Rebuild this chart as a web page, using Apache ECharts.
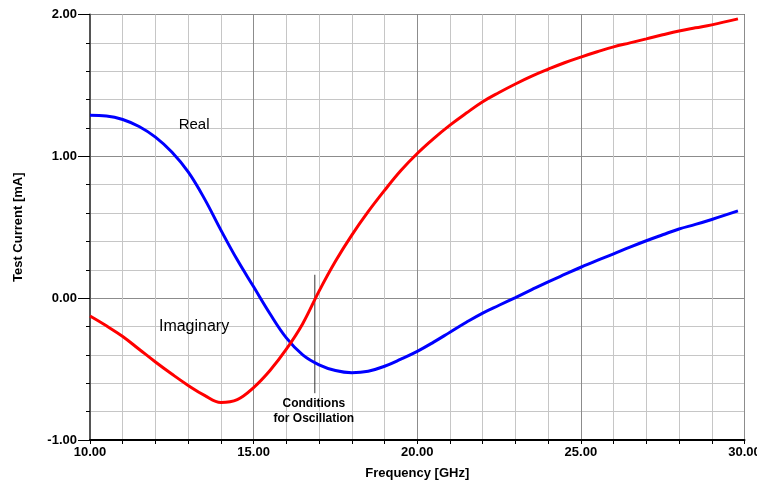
<!DOCTYPE html>
<html>
<head>
<meta charset="utf-8">
<script src="https://cdn.jsdelivr.net/npm/echarts@6/dist/echarts.min.js"></script>
<style>
  html, body { margin: 0; padding: 0; background: #fff; }
  #chart { width: 757px; height: 485px; }
</style>
</head>
<body>
<div id="chart"></div>
<script>
// Test current vs. frequency, real and imaginary parts
const realFreq = [10, 10.5, 11, 11.5, 12, 12.5, 13, 13.5, 14, 14.5, 15, 15.5, 16, 16.5, 17, 17.5, 18, 18.5, 19, 19.5, 20, 20.5, 21, 21.5, 22, 22.5, 23, 23.5, 24, 24.5, 25, 25.5, 26, 26.5, 27, 27.5, 28, 28.5, 29, 29.8];
const realVals = [1.29, 1.285, 1.26, 1.21, 1.135, 1.03, 0.89, 0.70, 0.48, 0.27, 0.08, -0.11, -0.28, -0.40, -0.47, -0.51, -0.525, -0.515, -0.48, -0.43, -0.375, -0.31, -0.24, -0.17, -0.105, -0.05, 0.004, 0.06, 0.115, 0.167, 0.218, 0.266, 0.312, 0.36, 0.405, 0.447, 0.488, 0.52, 0.555, 0.615];

const imagFreq = [10, 10.5, 11, 11.5, 12, 12.5, 13, 13.5, 14, 14.5, 15, 15.5, 16, 16.5, 17, 17.5, 18, 18.5, 19, 19.5, 20, 20.5, 21, 21.5, 22, 22.5, 23, 23.5, 24, 24.5, 25, 25.5, 26, 26.5, 27, 27.5, 28, 28.5, 29, 29.8];
const imagVals = [-0.126, -0.195, -0.27, -0.36, -0.45, -0.535, -0.615, -0.685, -0.735, -0.715, -0.63, -0.51, -0.36, -0.18, 0.05, 0.26, 0.445, 0.61, 0.76, 0.9, 1.02, 1.125, 1.22, 1.305, 1.385, 1.45, 1.51, 1.565, 1.614, 1.66, 1.7, 1.737, 1.772, 1.8, 1.828, 1.857, 1.884, 1.906, 1.927, 1.969];

// Oscillation marker: frequency and vertical extent
const markerFreq = 16.87;
const markerSpan = [0.165, -0.67];

// Curve annotations [freq, value, text]
const annotations = [
  [13.18, 1.22, 'Real'],
  [13.18, -0.2, 'Imaginary'],
  [16.84, -0.8, 'Conditions\nfor Oscillation']
];

const xTicks = { min: 10, max: 30, interval: 5 };
const yTicks = { min: -1, max: 2, interval: 1 };

const FONT = '"Liberation Sans", Arial, sans-serif';

const chart = echarts.init(document.getElementById('chart'), null, { renderer: 'canvas' });

const zip = (xs, ys) => xs.map((x, i) => [x, ys[i]]);

chart.setOption({
  animation: false,
  backgroundColor: '#ffffff',
  grid: {
    left: 90, right: 12.5, top: 14.5, bottom: 45,
    outerBoundsMode: 'none',
    containLabel: false,
    show: true, borderColor: '#000', borderWidth: 1, backgroundColor: 'transparent'
  },
  xAxis: {
    type: 'value',
    min: xTicks.min, max: xTicks.max, interval: xTicks.interval,
    name: 'Frequency [GHz]',
    nameLocation: 'middle',
    nameGap: 27,
    nameTextStyle: { fontFamily: FONT, fontSize: 13, fontWeight: 'bold', color: '#000' },
    axisLine: { show: true, onZero: false, lineStyle: { color: '#000', width: 2 } },
    axisTick: { show: true, length: 4, lineStyle: { color: '#000' } },
    minorTick: { show: true, splitNumber: 5, length: 4, lineStyle: { color: '#000' } },
    axisLabel: {
      margin: 6, fontFamily: FONT, fontSize: 13, fontWeight: 'bold', color: '#000',
      formatter: v => v.toFixed(2)
    },
    splitLine: { show: true, lineStyle: { color: '#8c8c8c', width: 1 } },
    minorSplitLine: { show: true, lineStyle: { color: '#c6c6c6', width: 1 } }
  },
  yAxis: {
    type: 'value',
    min: yTicks.min, max: yTicks.max, interval: yTicks.interval,
    name: 'Test Current [mA]',
    nameLocation: 'middle',
    nameGap: 65,
    nameTextStyle: { fontFamily: FONT, fontSize: 13, fontWeight: 'bold', color: '#000' },
    axisLine: { show: true, onZero: false, lineStyle: { color: '#555', width: 2 } },
    axisTick: { show: true, length: 12, lineStyle: { color: '#000' } },
    minorTick: { show: true, splitNumber: 5, length: 4, lineStyle: { color: '#000' } },
    axisLabel: {
      margin: 13, fontFamily: FONT, fontSize: 13, fontWeight: 'bold', color: '#000',
      formatter: v => v.toFixed(2)
    },
    splitLine: { show: true, lineStyle: { color: '#8c8c8c', width: 1 } },
    minorSplitLine: { show: true, lineStyle: { color: '#c6c6c6', width: 1 } }
  },
  series: [
    {
      name: 'marker',
      type: 'line',
      data: markerSpan.map(v => [markerFreq, v]),
      symbol: 'none',
      silent: true,
      lineStyle: { color: '#333', width: 1 }
    },
    {
      name: 'Real',
      type: 'line',
      data: zip(realFreq, realVals),
      smooth: 0.4,
      symbol: 'none',
      lineStyle: { color: '#0000ff', width: 3 }
    },
    {
      name: 'Imaginary',
      type: 'line',
      data: zip(imagFreq, imagVals),
      smooth: 0.4,
      symbol: 'none',
      lineStyle: { color: '#ff0000', width: 3 }
    },
    {
      name: 'labels',
      type: 'scatter',
      symbolSize: 0,
      silent: true,
      itemStyle: { opacity: 1 },
      data: annotations.map((a, i) => ({
        value: a,
        label: {
          show: true,
          position: 'inside',
          formatter: p => p.value[2],
          fontFamily: FONT,
          color: '#000',
          opacity: 1,
          fontSize: i === 2 ? 12 : (i === 1 ? 16 : 15),
          fontWeight: i === 2 ? 'bold' : 'normal',
          lineHeight: i === 2 ? 15 : 18,
          align: 'center'
        }
      }))
    }
  ]
});
</script>
</body>
</html>
